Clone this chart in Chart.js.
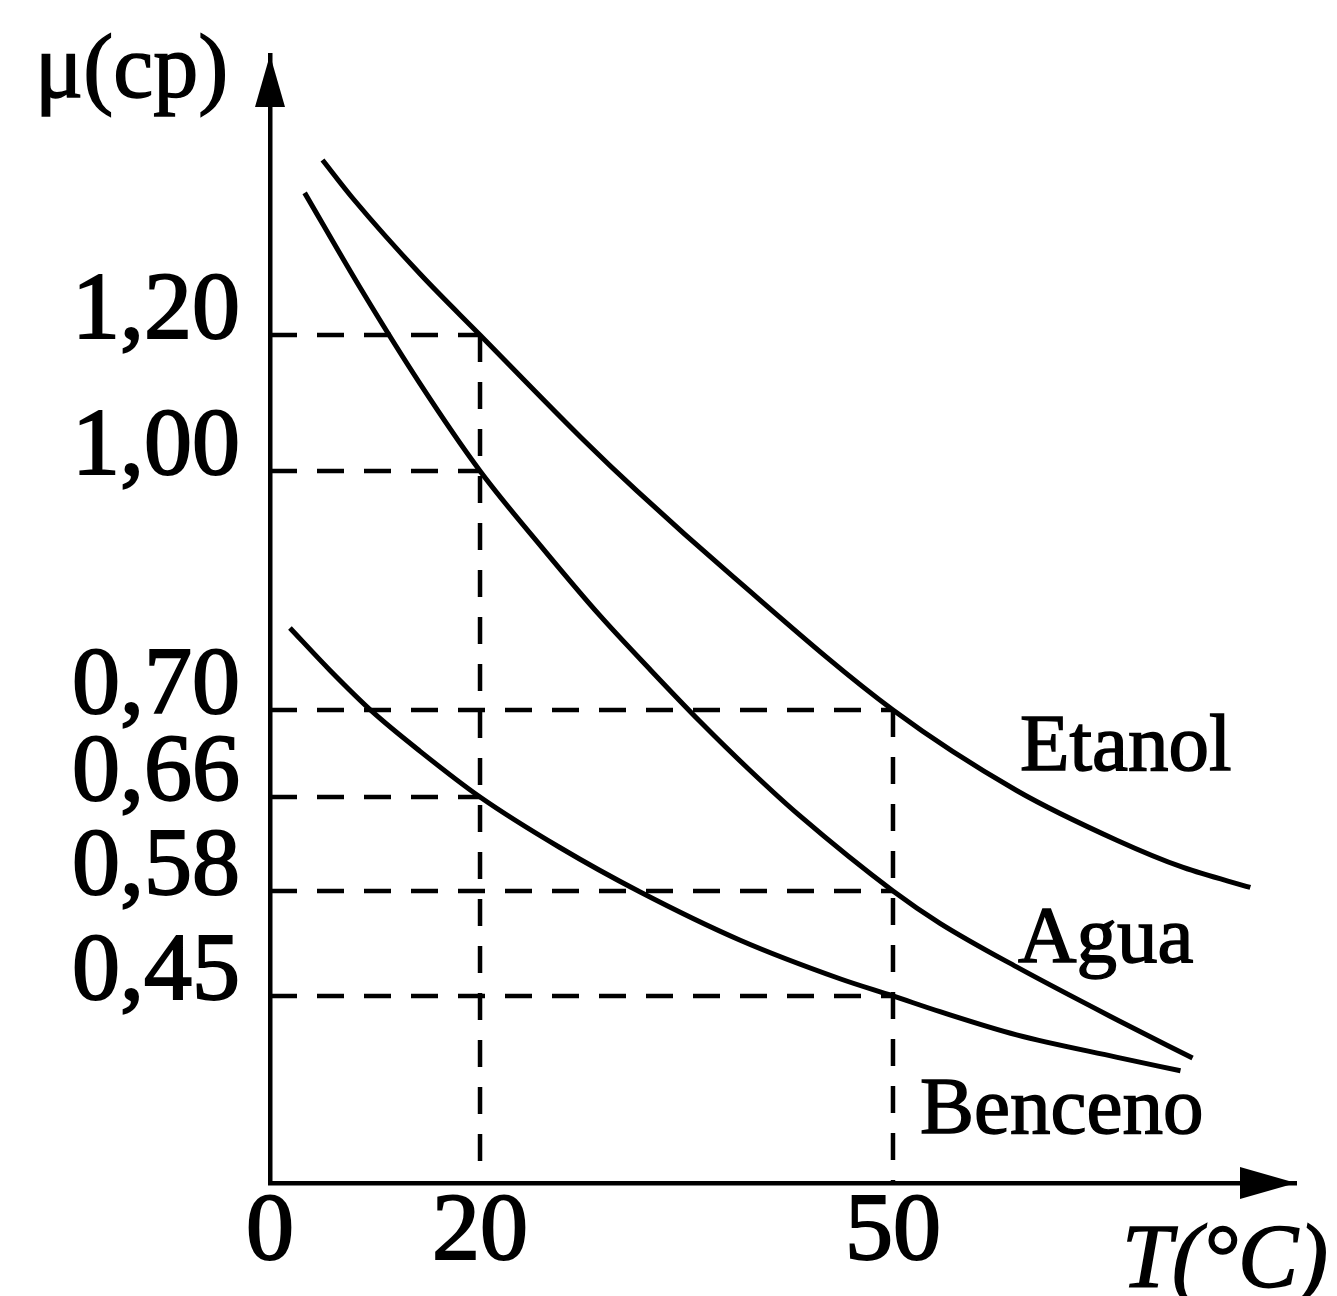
<!DOCTYPE html>
<html>
<head>
<meta charset="utf-8">
<title>Viscosidad vs temperatura</title>
<script src="https://cdn.jsdelivr.net/npm/chart.js@4.4.1/dist/chart.umd.min.js"></script>
<style>
  html, body { margin: 0; padding: 0; background: #fff; }
  canvas { display: block; }
</style>
</head>
<body>
<canvas id="grafico" width="1337" height="1296"></canvas>
<script>
// valores: T en °C, mu en cp
var etanolT  = [5, 7.9, 14.3, 20, 27.5, 31.4, 38.4, 50, 59.2, 66.7, 71.6, 76.6];
var etanolMu = [1.45, 1.395, 1.287, 1.20, 1.046, 0.975, 0.867, 0.70, 0.663, 0.623, 0.600, 0.583];

var aguaT  = [3.3, 8.6, 14.3, 20, 24.6, 28.7, 32.4, 36.0, 39.6, 43.2, 50, 53.5, 59.2, 66.7, 72.3];
var aguaMu = [1.403, 1.267, 1.128, 1.00, 0.902, 0.8187, 0.750, 0.6946, 0.6723, 0.6443, 0.58, 0.540, 0.486, 0.418, 0.367];

var bencenoT  = [1.9, 5.7, 9.8, 14.3, 20, 25.8, 31.6, 38.9, 46.2, 50, 53.5, 59.2, 66.7, 71.4];
var bencenoMu = [0.803, 0.750, 0.699, 0.681, 0.66, 0.617, 0.579, 0.519, 0.471, 0.45, 0.429, 0.398, 0.368, 0.350];

var ticksT  = [0, 20, 50];
var ticksMu = [0.45, 0.58, 0.66, 0.70, 1.00, 1.20];

// lecturas marcadas con lineas de trazos
var lecturasT  = [20, 20, 20, 50, 50, 50];
var lecturasMu = [1.20, 1.00, 0.66, 0.70, 0.58, 0.45];

// el dibujo no es lineal: valor -> fraccion del eje
var tramosT  = [[0, 0], [20, 0.2047], [50, 0.6072], [80, 1]];
var tramosMu = [[0.2, 0], [0.45, 0.1658], [0.58, 0.2589], [0.66, 0.3422], [0.70, 0.4193],
                [1.00, 0.6312], [1.20, 0.7518], [1.60, 1]];

function tramo(tabla, v, de, a) {
    var i = 1;
    while (i < tabla.length - 1 && v > tabla[i][de]) i++;
    var p = tabla[i - 1], q = tabla[i];
    return p[a] + (v - p[de]) * (q[a] - p[a]) / (q[de] - p[de]);
}

class EscalaTramos extends Chart.LinearScale {
    tabla() { return this.axis === 'x' ? tramosT : tramosMu; }
    getPixelForValue(value) {
        return this.getPixelForDecimal(tramo(this.tabla(), value, 0, 1));
    }
    getValueForPixel(pixel) {
        return tramo(this.tabla(), this.getDecimalForPixel(pixel), 1, 0);
    }
}
EscalaTramos.id = 'tramos';
EscalaTramos.defaults = Chart.LinearScale.defaults;
Chart.register(EscalaTramos);

function puntos(xs, ys) {
    return xs.map(function (x, i) { return { x: x, y: ys[i] }; });
}

var curva = {
    borderColor: '#000',
    borderWidth: 5,
    pointRadius: 0,
    showLine: true,
    cubicInterpolationMode: 'monotone'
};
var trazo = {
    borderColor: '#000',
    borderWidth: 4.5,
    borderDash: [27, 20],
    pointRadius: 0,
    showLine: true,
    tension: 0
};

var datasets = [
    Object.assign({ label: 'Etanol', data: puntos(etanolT, etanolMu) }, curva),
    Object.assign({ label: 'Agua', data: puntos(aguaT, aguaMu) }, curva),
    Object.assign({ label: 'Benceno', data: puntos(bencenoT, bencenoMu) }, curva)
];

var muMin = tramosMu[0][0];
lecturasT.forEach(function (t, i) {
    datasets.push(Object.assign({ data: puntos([0, t], [lecturasMu[i], lecturasMu[i]]) }, trazo));
});
ticksT.filter(function (t) { return t > 0; }).forEach(function (t) {
    var alto = Math.max.apply(null, lecturasMu.filter(function (m, i) { return lecturasT[i] === t; }));
    datasets.push(Object.assign({ data: puntos([t, t], [alto, muMin]) }, trazo));
});

function texto(c, s, x, y) {
    c.strokeText(s, x, y);
    c.fillText(s, x, y);
}

// flechas de los ejes y rotulos
var rotulos = {
    id: 'rotulos',
    afterDraw: function (chart) {
        var c = chart.ctx, a = chart.chartArea;
        c.save();
        c.fillStyle = '#000';
        c.strokeStyle = '#000';
        c.beginPath();
        c.moveTo(a.left, a.top);
        c.lineTo(a.left - 15, a.top + 52);
        c.lineTo(a.left + 15, a.top + 52);
        c.closePath();
        c.fill();
        c.beginPath();
        c.moveTo(a.right, a.bottom);
        c.lineTo(a.right - 56, a.bottom - 16);
        c.lineTo(a.right - 56, a.bottom + 16);
        c.closePath();
        c.fill();

        c.lineWidth = 1.5;
        c.textAlign = 'left';
        c.textBaseline = 'alphabetic';
        c.font = '90px "Liberation Serif"';
        texto(c, '\u03bc(cp)', 35, 97);
        c.font = 'italic 90px "Liberation Serif"';
        texto(c, 'T(\u00b0C)', 1122, 1287);
        c.font = '81px "Liberation Serif"';
        texto(c, 'Etanol', 1020, 770);
        texto(c, 'Agua', 1018, 962);
        texto(c, 'Benceno', 920, 1133);
        c.restore();
    }
};

var fuente = { family: 'Liberation Serif', size: 96, lineHeight: 1 };

var ctx = document.getElementById('grafico').getContext('2d');
var myChart = new Chart(ctx, {
    type: 'scatter',
    data: { datasets: datasets },
    options: {
        responsive: false,
        animation: false,
        events: [],
        layout: { padding: { left: 0, top: 55, right: 41, bottom: 0 } },
        plugins: {
            legend: { display: false },
            tooltip: { enabled: false },
            title: { display: false }
        },
        scales: {
            x: {
                type: 'tramos',
                min: 0,
                max: 80,
                grid: { display: false, drawTicks: false },
                border: { display: true, color: '#000', width: 4.5 },
                afterBuildTicks: function (scale) {
                    scale.ticks = ticksT.map(function (v) { return { value: v }; });
                },
                afterFit: function (scale) {
                    scale.height = 113;
                    scale.paddingLeft = 0;
                    scale.paddingRight = 0;
                },
                ticks: {
                    autoSkip: false,
                    maxRotation: 0,
                    minRotation: 0,
                    padding: 3,
                    color: '#000',
                    textStrokeColor: '#000',
                    textStrokeWidth: 2,
                    font: fuente,
                    callback: function (v) { return String(v); }
                }
            },
            y: {
                type: 'tramos',
                min: 0.2,
                max: 1.6,
                grid: { display: false, drawTicks: false },
                border: { display: true, color: '#000', width: 4.5 },
                afterBuildTicks: function (scale) {
                    scale.ticks = ticksMu.map(function (v) { return { value: v }; });
                },
                afterFit: function (scale) {
                    scale.width = 270;
                    scale.paddingTop = 0;
                    scale.paddingBottom = 0;
                },
                ticks: {
                    autoSkip: false,
                    padding: 30,
                    labelOffset: -22,
                    color: '#000',
                    textStrokeColor: '#000',
                    textStrokeWidth: 2,
                    font: fuente,
                    callback: function (v) { return v.toFixed(2).replace('.', ','); }
                }
            }
        }
    },
    plugins: [rotulos]
});
</script>
</body>
</html>
